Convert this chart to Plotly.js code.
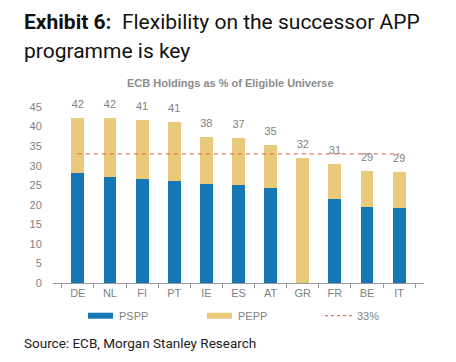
<!DOCTYPE html>
<html>
<head>
<meta charset="utf-8">
<script src="https://cdn.plot.ly/plotly-3.0.1.min.js"></script>
<style>html,body{margin:0;padding:0;background:#fff;}#chart{width:456px;height:362px;}</style>
</head>
<body>
<div id="chart"></div>
<script>
const categories = ["DE","NL","FI","PT","IE","ES","AT","GR","FR","BE","IT"];
const psppValues = [28.2,27.1,26.6,26.1,25.2,25.0,24.2,0,21.5,19.5,19.3];
const peppValues = [14.0,15.0,15.1,15.0,12.1,12.2,11.1,31.9,9.0,9.1,9.0];
const totalLabels = ["42","42","41","41","38","37","35","32","31","29","29"];
const threshold = 33;
const yTicks = [0,5,10,15,20,25,30,35,40,45];

const totals = psppValues.map((v,i)=>v+peppValues[i]);
const blue = '#1578B4', gold = '#E9C97A', lineCol = '#E8705A', grey = '#7f7f7f';

const traces = [
  {type:'bar', name:'PSPP', x:categories, y:psppValues, marker:{color:blue}, width:0.4, hoverinfo:'none'},
  {type:'bar', name:'PEPP', x:categories, y:peppValues, marker:{color:gold}, width:0.4, hoverinfo:'none'},
  {type:'scatter', mode:'lines', name:'33%', x:categories, y:categories.map(()=>threshold),
   line:{color:lineCol, width:1.3, dash:'4px,4px'}, hoverinfo:'none'},
  {type:'scatter', mode:'markers+text', x:categories, y:totals, text:totalLabels, textposition:'top center',
   marker:{size:10, opacity:0}, textfont:{family:'Liberation Sans, Arial, sans-serif', size:11, color:grey}, cliponaxis:false, hoverinfo:'none'}
];

function px2x(p){return (p-53)/371;}
function py2y(p){return (283-p)/176;}
const legY = py2y(315.7);
const shapes = [
  {type:'rect', xref:'paper', yref:'paper', x0:px2x(88), x1:px2x(113), y0:legY-3/176, y1:legY+3/176, fillcolor:blue, line:{width:0}},
  {type:'rect', xref:'paper', yref:'paper', x0:px2x(207), x1:px2x(232), y0:legY-3/176, y1:legY+3/176, fillcolor:gold, line:{width:0}},
  {type:'line', xref:'paper', yref:'paper', x0:px2x(325), x1:px2x(352), y0:legY, y1:legY, line:{color:'#E04B3C', width:1, dash:'3px,3px'}}
];
const legFont = {family:'Liberation Sans, Arial, sans-serif', size:11, color:grey};
const titleFont = {family:'Roboto, sans-serif', size:21, color:'#111'};
const annotations = [
  {xref:'paper', yref:'paper', x:px2x(22), y:py2y(8), text:'<b>Exhibit 6:</b>  Flexibility on the successor APP', showarrow:false,
   xanchor:'left', yanchor:'top', align:'left', font:titleFont},
  {xref:'paper', yref:'paper', x:px2x(22), y:py2y(37), text:'programme is key', showarrow:false,
   xanchor:'left', yanchor:'top', align:'left', font:titleFont},
  {xref:'paper', yref:'paper', x:px2x(117), y:legY, text:'PSPP', showarrow:false, xanchor:'left', yanchor:'middle', font:legFont},
  {xref:'paper', yref:'paper', x:px2x(236), y:legY, text:'PEPP', showarrow:false, xanchor:'left', yanchor:'middle', font:legFont},
  {xref:'paper', yref:'paper', x:px2x(355), y:legY, text:'33%', showarrow:false, xanchor:'left', yanchor:'middle', font:legFont},
  {xref:'paper', yref:'paper', x:px2x(230), y:py2y(83), text:'<b>ECB Holdings as % of Eligible Universe</b>', showarrow:false, xanchor:'center', yanchor:'middle',
   font:{family:'Liberation Sans, Arial, sans-serif', size:11, color:'#8c8c8c'}},
  {xref:'paper', yref:'paper', x:px2x(22), y:py2y(343), text:'Source: ECB, Morgan Stanley Research', showarrow:false, xanchor:'left', yanchor:'middle',
   font:{family:'Roboto, sans-serif', size:13.5, color:'#222'}}
];

const layout = {
  width:456, height:362,
  margin:{l:53, r:32, t:107, b:79},
  paper_bgcolor:'#fff', plot_bgcolor:'#fff',
  barmode:'stack', showlegend:false,
  xaxis:{type:'category', showgrid:false, showline:true, linecolor:'#999', linewidth:1, ticks:'outside', tickson:'boundaries',
         ticklen:4, tickcolor:'#999', tickfont:{family:'Liberation Sans, Arial, sans-serif', size:11, color:grey}, zeroline:false, fixedrange:true},
  yaxis:{range:[0,45], tickvals:yTicks, showgrid:false, showline:false, zeroline:false, ticks:'outside', ticklen:8, tickcolor:'rgba(0,0,0,0)',
         tickfont:{family:'Liberation Sans, Arial, sans-serif', size:11, color:grey}, fixedrange:true},
  shapes:shapes, annotations:annotations
};
Plotly.newPlot('chart', traces, layout, {displayModeBar:false, staticPlot:true});
</script>
</body>
</html>
